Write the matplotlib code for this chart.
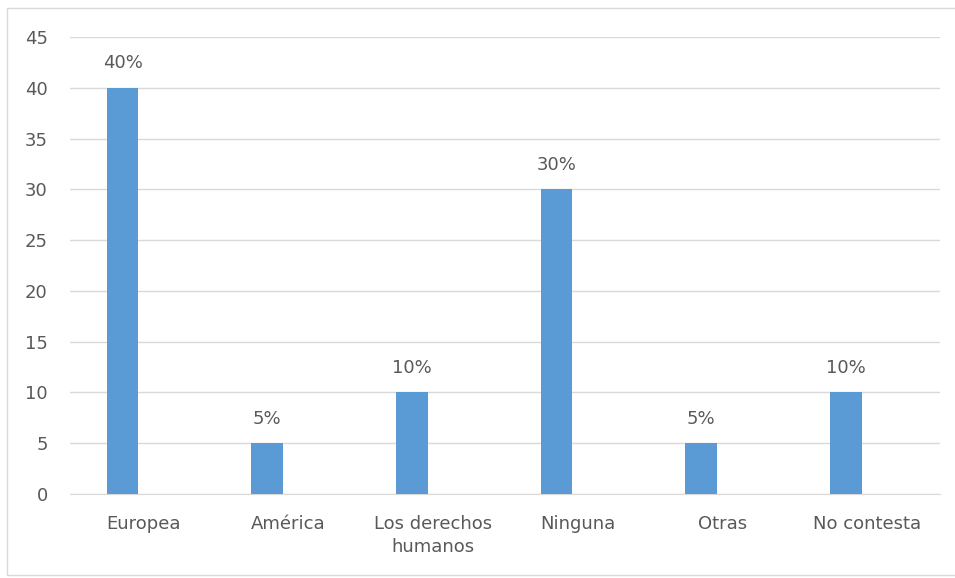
import matplotlib.pyplot as plt
from matplotlib.patches import Rectangle
import numpy as np

categories = ['Europea', 'América', 'Los derechos\nhumanos', 'Ninguna', 'Otras', 'No contesta']
values = [40, 5, 10, 30, 5, 10]
value_labels = ['40%', '5%', '10%', '30%', '5%', '10%']
yticks = [0, 5, 10, 15, 20, 25, 30, 35, 40, 45]

BAR_COLOR = '#5B9BD5'
TEXT_COLOR = '#595959'
GRID_COLOR = '#D9D9D9'


def main():
    fig = plt.figure(figsize=(9.55, 5.78), dpi=100)
    ax = fig.add_axes([70 / 955, 1 - 494 / 578, 870 / 955, 457 / 578])

    x = np.arange(len(categories))
    bars = ax.bar(x, values, width=0.22, color=BAR_COLOR, zorder=3)
    ax.bar_label(bars, labels=value_labels, padding=11, fontsize=13, color=TEXT_COLOR)

    ax.set_ylim(0, 45)
    ax.set_xlim(-0.363, 5.65)
    ax.set_yticks(yticks)
    ax.set_yticklabels([str(t) for t in yticks])
    # labels sit a little right of the bars in the original
    ax.set_xticks(x + 0.145)
    ax.set_xticklabels(categories, linespacing=1.35)

    ax.tick_params(axis='y', length=0, pad=16, labelsize=13, labelcolor=TEXT_COLOR)
    ax.tick_params(axis='x', length=0, pad=15, labelsize=13, labelcolor=TEXT_COLOR)

    ax.grid(axis='y', color=GRID_COLOR, linewidth=1, zorder=0)
    for side in ['top', 'right', 'left']:
        ax.spines[side].set_visible(False)
    ax.spines['bottom'].set_color(GRID_COLOR)

    # light frame around the chart area (right side runs off the image)
    fig.patches.append(Rectangle((7 / 955, 3 / 578), 1.1, 567 / 578,
                                 transform=fig.transFigure, fill=False,
                                 edgecolor='#D9D9D9', linewidth=1))

    fig.savefig('out.png', dpi=100)


if __name__ == '__main__':
    main()
